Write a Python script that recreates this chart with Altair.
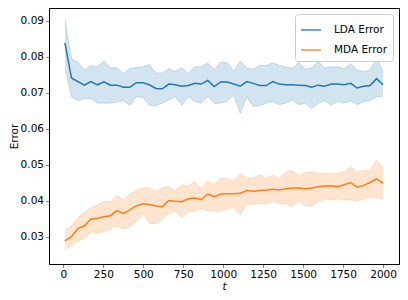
import altair as alt
import pandas as pd

t = [10, 51, 91, 132, 172, 213, 254, 294, 335, 376, 416, 457, 497, 538, 579, 619, 660, 700, 741, 782,
     822, 863, 903, 944, 985, 1025, 1066, 1107, 1147, 1188, 1228, 1269, 1310, 1350, 1391, 1431, 1472, 1513, 1553, 1594,
     1634, 1675, 1716, 1756, 1797, 1838, 1878, 1919, 1959, 2000]

lda_mean = [0.0838, 0.0741, 0.0731, 0.0721, 0.0731, 0.0722, 0.0730, 0.0721, 0.0721, 0.0715,
            0.0715, 0.0728, 0.0728, 0.0722, 0.0712, 0.0711, 0.0724, 0.0722, 0.0718, 0.0720,
            0.0726, 0.0724, 0.0734, 0.0717, 0.0730, 0.0730, 0.0724, 0.0718, 0.0731, 0.0726,
            0.0720, 0.0720, 0.0731, 0.0724, 0.0722, 0.0722, 0.0721, 0.0720, 0.0715, 0.0721,
            0.0718, 0.0724, 0.0724, 0.0722, 0.0726, 0.0713, 0.0718, 0.0720, 0.0739, 0.0722]
lda_hi = [0.0904, 0.0794, 0.0785, 0.0763, 0.0775, 0.0772, 0.0788, 0.0769, 0.0769, 0.0753,
          0.0767, 0.0770, 0.0772, 0.0778, 0.0755, 0.0755, 0.0767, 0.0759, 0.0769, 0.0753,
          0.0772, 0.0772, 0.0783, 0.0765, 0.0785, 0.0783, 0.0760, 0.0788, 0.0769, 0.0765,
          0.0776, 0.0776, 0.0783, 0.0776, 0.0772, 0.0767, 0.0785, 0.0765, 0.0769, 0.0787,
          0.0769, 0.0772, 0.0772, 0.0767, 0.0781, 0.0763, 0.0759, 0.0763, 0.0796, 0.0759]
lda_lo = [0.0768, 0.0689, 0.0678, 0.0684, 0.0684, 0.0671, 0.0671, 0.0671, 0.0674, 0.0678,
          0.0665, 0.0689, 0.0687, 0.0665, 0.0664, 0.0671, 0.0680, 0.0689, 0.0665, 0.0688,
          0.0676, 0.0671, 0.0690, 0.0670, 0.0671, 0.0676, 0.0693, 0.0643, 0.0689, 0.0662,
          0.0664, 0.0671, 0.0676, 0.0667, 0.0671, 0.0680, 0.0667, 0.0671, 0.0656, 0.0671,
          0.0678, 0.0665, 0.0676, 0.0671, 0.0678, 0.0667, 0.0676, 0.0678, 0.0689, 0.0690]

mda_mean = [0.0289, 0.0301, 0.0323, 0.0331, 0.0349, 0.0352, 0.0356, 0.0359, 0.0373, 0.0365,
            0.0375, 0.0386, 0.0392, 0.0390, 0.0386, 0.0384, 0.0401, 0.0399, 0.0398, 0.0406,
            0.0408, 0.0404, 0.0419, 0.0412, 0.0419, 0.0420, 0.0420, 0.0421, 0.0429, 0.0427,
            0.0429, 0.0430, 0.0432, 0.0430, 0.0434, 0.0436, 0.0436, 0.0434, 0.0436, 0.0439,
            0.0441, 0.0442, 0.0439, 0.0445, 0.0451, 0.0438, 0.0443, 0.0451, 0.0461, 0.0449]
mda_hi = [0.0318, 0.0331, 0.0353, 0.0368, 0.0381, 0.0388, 0.0399, 0.0397, 0.0416, 0.0403,
          0.0419, 0.0428, 0.0436, 0.0436, 0.0426, 0.0436, 0.0440, 0.0428, 0.0445, 0.0441,
          0.0454, 0.0434, 0.0456, 0.0445, 0.0462, 0.0462, 0.0454, 0.0477, 0.0462, 0.0463,
          0.0473, 0.0462, 0.0472, 0.0462, 0.0480, 0.0484, 0.0469, 0.0479, 0.0480, 0.0477,
          0.0477, 0.0476, 0.0477, 0.0480, 0.0496, 0.0480, 0.0484, 0.0484, 0.0512, 0.0493]
mda_lo = [0.0266, 0.0274, 0.0289, 0.0296, 0.0314, 0.0312, 0.0314, 0.0323, 0.0331, 0.0323,
          0.0327, 0.0344, 0.0365, 0.0338, 0.0336, 0.0349, 0.0366, 0.0371, 0.0353, 0.0371,
          0.0371, 0.0379, 0.0373, 0.0371, 0.0371, 0.0379, 0.0381, 0.0362, 0.0392, 0.0390,
          0.0392, 0.0392, 0.0399, 0.0392, 0.0392, 0.0384, 0.0401, 0.0386, 0.0386, 0.0397,
          0.0405, 0.0403, 0.0405, 0.0403, 0.0403, 0.0399, 0.0405, 0.0412, 0.0410, 0.0405]

series = ["LDA Error", "MDA Error"]
colors = ["#1f77b4", "#ff7f0e"]

rows = []
for name, m, lo, hi in [(series[0], lda_mean, lda_lo, lda_hi), (series[1], mda_mean, mda_lo, mda_hi)]:
    for i in range(len(t)):
        rows.append({"series": name, "t": t[i], "mean": m[i], "lo": lo[i], "hi": hi[i]})
df = pd.DataFrame(rows)

FONT = "DejaVu Sans"
xenc = alt.X("t:Q", title="t",
             scale=alt.Scale(domain=[-89.5, 2099.5], nice=False, zero=False),
             axis=alt.Axis(values=[0, 250, 500, 750, 1000, 1250, 1500, 1750, 2000], format="d",
                           titleFontStyle="italic", titlePadding=1))
yscale = alt.Scale(domain=[0.0225, 0.0935], nice=False, zero=False)
yaxis = alt.Axis(values=[0.03, 0.04, 0.05, 0.06, 0.07, 0.08, 0.09], format=".2f", titlePadding=1)
cscale = alt.Scale(domain=series, range=colors)

base = alt.Chart(df)
band = base.mark_area(fillOpacity=0.2).encode(
    x=xenc,
    y=alt.Y("lo:Q", title="Error", scale=yscale, axis=yaxis),
    y2="hi:Q",
    color=alt.Color("series:N", scale=cscale, legend=None),
)
edge_lo = base.mark_line(strokeWidth=1, strokeOpacity=0.2).encode(
    x=xenc,
    y=alt.Y("lo:Q", title="Error", scale=yscale, axis=yaxis),
    color=alt.Color("series:N", scale=cscale, legend=None),
)
edge_hi = base.mark_line(strokeWidth=1, strokeOpacity=0.2).encode(
    x=xenc,
    y=alt.Y("hi:Q", title="Error", scale=yscale, axis=yaxis),
    color=alt.Color("series:N", scale=cscale, legend=None),
)
line = base.mark_line(strokeWidth=1.5).encode(
    x=xenc,
    y=alt.Y("mean:Q", title="Error", scale=yscale, axis=yaxis),
    color=alt.Color("series:N", scale=cscale,
                    legend=alt.Legend(title=None, orient="top-right", offset=6,
                                      symbolType="stroke", symbolSize=400, symbolStrokeWidth=1.3,
                                      labelFontSize=10.5, labelFont=FONT, labelColor="black",
                                      padding=5, strokeColor="#cccccc", fillColor="white",
                                      cornerRadius=3, rowPadding=3, labelOffset=12)),
)

chart = alt.layer(band, edge_lo, edge_hi, line).resolve_scale(
    color="independent"
).resolve_legend(color="independent").properties(
    width=392, height=284,
    autosize=alt.AutoSizeParams(type="fit", contains="padding"),
    padding={"left": 1, "top": 0, "right": 1, "bottom": 0},
).configure(font=FONT).configure_view(stroke="black", strokeWidth=1).configure_axis(
    grid=False, labelFont=FONT, labelFontSize=10.5, labelColor="black",
    titleFont=FONT, titleFontSize=10.5, titleFontWeight="normal", titleColor="black",
    tickColor="#888888", domainColor="black", tickSize=3.5, labelPadding=2,
)

chart.save("out.html", embed_options={"renderer": "svg", "actions": False})
